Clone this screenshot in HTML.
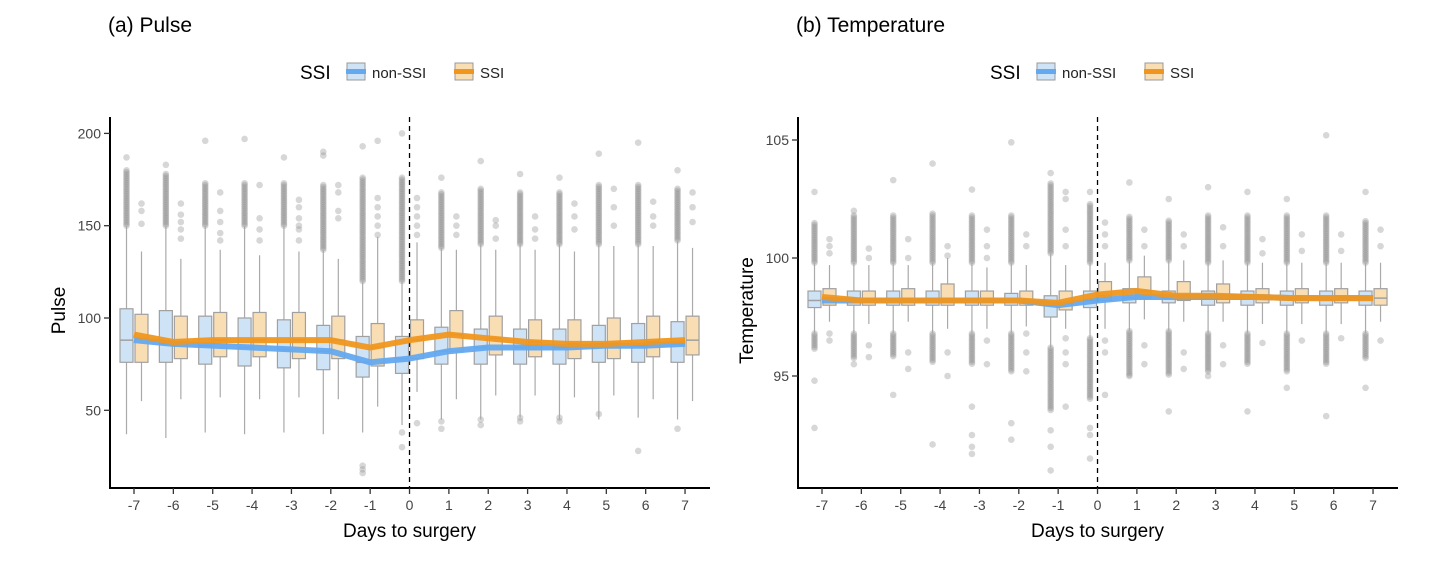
<!DOCTYPE html>
<html><head><meta charset="utf-8"><style>
body{margin:0;background:#fff;width:1449px;height:567px;overflow:hidden;font-family:"Liberation Sans",sans-serif}
svg text{font-family:"Liberation Sans",sans-serif}
</style></head><body>
<svg id="chart" width="1449" height="567" xmlns="http://www.w3.org/2000/svg"></svg>
<script>
const days=[-7,-6,-5,-4,-3,-2,-1,0,1,2,3,4,5,6,7];
// Pulse
const pN_q1=[76,76,75,74,73,72,68,70,75,75,75,75,76,76,76];
const pN_med=[88,86,85,84,83,82,76,78,82,84,84,84,85,85,86];
const pN_q3=[105,104,101,100,99,96,90,90,95,94,94,94,96,97,98];
const pN_lo=[37,35,38,37,38,37,38,42,45,45,46,45,45,46,45];
const pN_hi=[150,150,150,150,150,137,120,120,138,140,140,140,140,140,142];
const pN_outMax=[180,178,173,173,173,172,176,176,168,170,168,168,172,172,170];
const pN_extra=[[187],[183],[196],[197],[187],[190,188],[193,20,18,16],[200,38,30],[176,44,40],[185,45,42],[178,46,44],[176,46,44],[189,48],[195,28],[180,40]];
const pS_q1=[76,78,79,79,78,78,74,78,82,80,79,78,78,79,80];
const pS_med=[89,87,88,88,88,88,84,88,91,89,87,86,86,87,88];
const pS_q3=[102,101,103,103,103,101,97,99,104,101,99,99,100,101,101];
const pS_lo=[55,56,57,56,57,56,52,60,56,58,58,57,58,56,55];
const pS_hi=[136,132,137,134,136,132,144,141,137,137,137,136,139,139,138];
const pS_out=[[162,158,151],[162,156,152,148,143],[168,158,152,146,142],[172,154,148,142],[164,160,154,150,148,142],[172,168,158,154],[196,165,160,155,150,145],[165,160,155,150,145,43],[155,150,145],[153,150,143],[155,148,143],[162,155,148],[170,160,150],[163,155,150],[168,160,152]];
const pLineN=[88,86,85,84,83,82,76,78,82,84,84,84,85,85,86];
const pLineS=[91,87,88,88,88,88,84,88,91,89,87,86,86,87,88];
// Temperature
const tN_q1=[97.9,98.0,98.0,98.0,98.0,98.0,97.5,97.9,98.1,98.1,98.0,98.0,98.0,98.0,98.0];
const tN_med=[98.2,98.2,98.2,98.2,98.2,98.2,98.0,98.2,98.3,98.3,98.3,98.3,98.3,98.3,98.3];
const tN_q3=[98.6,98.6,98.6,98.6,98.6,98.5,98.4,98.6,98.7,98.6,98.6,98.6,98.6,98.6,98.6];
const tN_lo=[96.8,96.8,96.8,96.8,96.8,96.8,96.2,96.6,96.9,96.9,96.8,96.8,96.8,96.8,96.8];
const tN_hi=[99.8,99.8,99.8,99.8,99.8,99.8,100.2,99.8,99.9,99.9,99.8,99.8,99.8,99.8,99.8];
const tN_outHi=[101.5,101.8,101.8,101.9,101.8,101.8,103.2,102.3,101.8,101.6,101.8,101.8,101.8,101.8,101.6];
const tN_outLo=[96.1,95.7,95.8,95.6,95.5,95.2,93.5,94.0,95.0,95.0,95.2,95.5,95.2,95.5,95.7];
const tN_extra=[[102.8,94.8,92.8],[102.0,95.5],[103.3,94.2],[104.0,92.1],[102.9,93.7,92.5,92.0,91.7],[104.9,93.0,92.3],[103.6,92.7,92.0,91.0],[102.8,92.5,91.5,92.8],[103.2,95.0],[102.5,93.5],[103.0,95.0],[102.8,93.5],[102.5,94.5],[105.2,93.3],[102.8,94.5]];
const tS_q1=[98.0,98.0,98.0,98.0,98.0,98.0,97.8,98.2,98.3,98.2,98.1,98.1,98.1,98.1,98.0];
const tS_med=[98.3,98.2,98.2,98.2,98.2,98.2,98.1,98.4,98.6,98.4,98.4,98.3,98.3,98.3,98.3];
const tS_q3=[98.7,98.6,98.7,98.9,98.6,98.6,98.6,99.0,99.2,99.0,98.9,98.7,98.7,98.7,98.7];
const tS_lo=[97.3,97.2,97.3,97.0,97.0,97.1,97.0,97.0,97.4,97.3,97.3,97.2,97.2,97.2,97.3];
const tS_hi=[99.7,99.7,99.7,100.0,99.6,99.7,99.7,99.8,100.1,99.9,99.9,99.8,99.8,99.8,99.8];
const tS_out=[[100.8,100.5,100.2,96.8,96.5],[100.4,100.0,96.3,95.8],[100.8,100.0,96.0,95.3],[100.5,100.1,96.0,95.0],[101.2,100.5,100.0,96.5,95.5],[101.0,100.5,96.8,96.0,95.2],[102.8,102.5,101.2,100.5,96.6,96.0,95.5,93.7],[101.5,101.0,100.5,96.5,96.0,94.2],[101.2,100.5,96.3,95.5],[101.0,100.5,96.0,95.3],[101.3,100.5,96.3,95.5],[100.8,100.2,96.4],[101.0,100.3,96.5],[101.0,100.3,96.6],[101.2,100.5,96.5]];
const tLineN=[98.2,98.2,98.2,98.2,98.2,98.2,98.0,98.2,98.35,98.35,98.35,98.35,98.3,98.3,98.3];
const tLineS=[98.35,98.2,98.2,98.2,98.2,98.2,98.1,98.45,98.6,98.4,98.4,98.35,98.3,98.3,98.3];

const NS="http://www.w3.org/2000/svg";
const svg=document.getElementById('chart');
function mk(tag,attrs,parent){const e=document.createElementNS(NS,tag);for(const k in attrs)e.setAttribute(k,attrs[k]);(parent||svg).appendChild(e);return e;}

function panel(o){
  const g=mk('g',{});
  
  
  const x=d=>o.x0+(d+7)*o.dx;
  const y=v=>o.y0-(v-o.v0)*o.k;
  // title
  const t=mk('text',{x:o.titleX,y:32,'font-size':21,fill:'#000'},g);t.textContent=o.title;
  
  // legend
  const lg=mk('g',{},g);
  
  const lt=mk('text',{x:o.legX,y:79,'font-size':19,fill:'#000'},lg);lt.textContent='SSI';
  const keys=[['non-SSI','#cfe3f7','#64a9f0',o.legX+47],['SSI','#f9ddb3','#f0961e',o.legX+155]];
  keys.forEach(kk=>{
    const e=mk('g',{},lg);
    
    mk('rect',{x:kk[3],y:63,width:18,height:17,fill:kk[1],stroke:'#999'},e);
    mk('line',{x1:kk[3]-1,x2:kk[3]+19,y1:71.5,y2:71.5,stroke:kk[2],'stroke-width':5},e);
    const tx=mk('text',{x:kk[3]+25,y:78,'font-size':15,fill:'#222'},e);tx.textContent=kk[0];
  });
  // vline at 0
  mk('line',{x1:x(0),x2:x(0),y1:o.top,y2:488,stroke:'#000','stroke-dasharray':'5,4','stroke-width':1.3},g);
  // boxes
  const off=7.5,w=13;
  const series=[
    {q1:o.N.q1,med:o.N.med,q3:o.N.q3,lo:o.N.lo,hi:o.N.hi,fill:'#cfe3f7',s:-1,n:'non-ssi'},
    {q1:o.S.q1,med:o.S.med,q3:o.S.q3,lo:o.S.lo,hi:o.S.hi,fill:'#f9ddb3',s:1,n:'ssi'}];
  const dot=(cx,v,parent)=>{const c=mk('circle',{cx:cx,cy:y(v),r:3.3,fill:'#8c8c8c','fill-opacity':0.35},parent);};
  days.forEach((d,i)=>{
    series.forEach(s=>{
      const cx=x(d)+s.s*off;
      const bg=mk('g',{},g);
      
      // outliers
      if(s.s<0){
        const hiStart=s.hi[i], hiEnd=o.N.outHi[i];
        for(let v=hiStart;v<=hiEnd;v+=o.step)dot(cx,v,bg);
        if(o.N.outLo){for(let v=s.lo[i];v>=o.N.outLo[i];v-=o.step)dot(cx,v,bg);}
        o.N.extra[i].forEach(v=>dot(cx,v,bg));
      } else {
        o.S.out[i].forEach(v=>dot(cx,v,bg));
      }
      mk('line',{x1:cx,x2:cx,y1:y(s.lo[i]),y2:y(s.hi[i]),stroke:'#aaa','stroke-width':1.2},bg);
      mk('rect',{x:cx-w/2,y:y(s.q3[i]),width:w,height:y(s.q1[i])-y(s.q3[i]),fill:s.fill,stroke:'#a0a0a0','stroke-width':1.2},bg);
      mk('line',{x1:cx-w/2,x2:cx+w/2,y1:y(s.med[i]),y2:y(s.med[i]),stroke:'#a0a0a0','stroke-width':1.5},bg);
    });
  });
  // lines
  [[o.lineN,'#64a9f0','line-non-ssi'],[o.lineS,'#f0961e','line-ssi']].forEach(L=>{
    const p=mk('polyline',{points:days.map((d,i)=>x(d)+','+y(L[0][i])).join(' '),fill:'none',stroke:L[1],'stroke-width':6,'stroke-linejoin':'round','stroke-opacity':0.95},g);
    
  });
  // axes
  const ax=mk('g',{},g);
  mk('line',{x1:o.axX,x2:o.axX,y1:o.top,y2:489,stroke:'#000','stroke-width':2},ax);
  mk('line',{x1:o.axX-1,x2:o.axX+600,y1:488,y2:488,stroke:'#000','stroke-width':2},ax);
  days.forEach(d=>{
    mk('line',{x1:x(d),x2:x(d),y1:488,y2:494,stroke:'#333','stroke-width':1.3},ax);
    const tt=mk('text',{x:x(d),y:510,'font-size':14,fill:'#444','text-anchor':'middle'},ax);tt.textContent=d;
  });
  o.yticks.forEach(v=>{
    mk('line',{x1:o.axX-6,x2:o.axX,y1:y(v),y2:y(v),stroke:'#333','stroke-width':1.3},ax);
    const tt=mk('text',{x:o.axX-9,y:y(v)+5,'font-size':14,fill:'#444','text-anchor':'end'},ax);tt.textContent=v;
  });
  const xl=mk('text',{x:x(0),y:537,'font-size':19,fill:'#000','text-anchor':'middle'},g);xl.textContent='Days to surgery';
  
  const yl=mk('text',{x:0,y:0,'font-size':19,fill:'#000','text-anchor':'middle',transform:`translate(${o.axX-45},${(o.top+488)/2+8}) rotate(-90)`},g);yl.textContent=o.ylab;
  
}
panel({name:'pulse-panel',title:'(a) Pulse',titleX:108,legX:300,x0:134,dx:39.36,y0:318,v0:100,k:1.846,top:117,axX:110,step:1.0,
  yticks:[50,100,150,200],ylab:'Pulse',
  N:{q1:pN_q1,med:pN_med,q3:pN_q3,lo:pN_lo,hi:pN_hi,outHi:pN_outMax,extra:pN_extra},
  S:{q1:pS_q1,med:pS_med,q3:pS_q3,lo:pS_lo,hi:pS_hi,out:pS_out},lineN:pLineN,lineS:pLineS});
panel({name:'temperature-panel',title:'(b) Temperature',titleX:796,legX:990,x0:822,dx:39.36,y0:258,v0:100,k:23.6,top:117,axX:798,step:0.08,
  yticks:[95,100,105],ylab:'Temperature',
  N:{q1:tN_q1,med:tN_med,q3:tN_q3,lo:tN_lo,hi:tN_hi,outHi:tN_outHi,outLo:tN_outLo,extra:tN_extra},
  S:{q1:tS_q1,med:tS_med,q3:tS_q3,lo:tS_lo,hi:tS_hi,out:tS_out},lineN:tLineN,lineS:tLineS});
</script>
</body></html>
